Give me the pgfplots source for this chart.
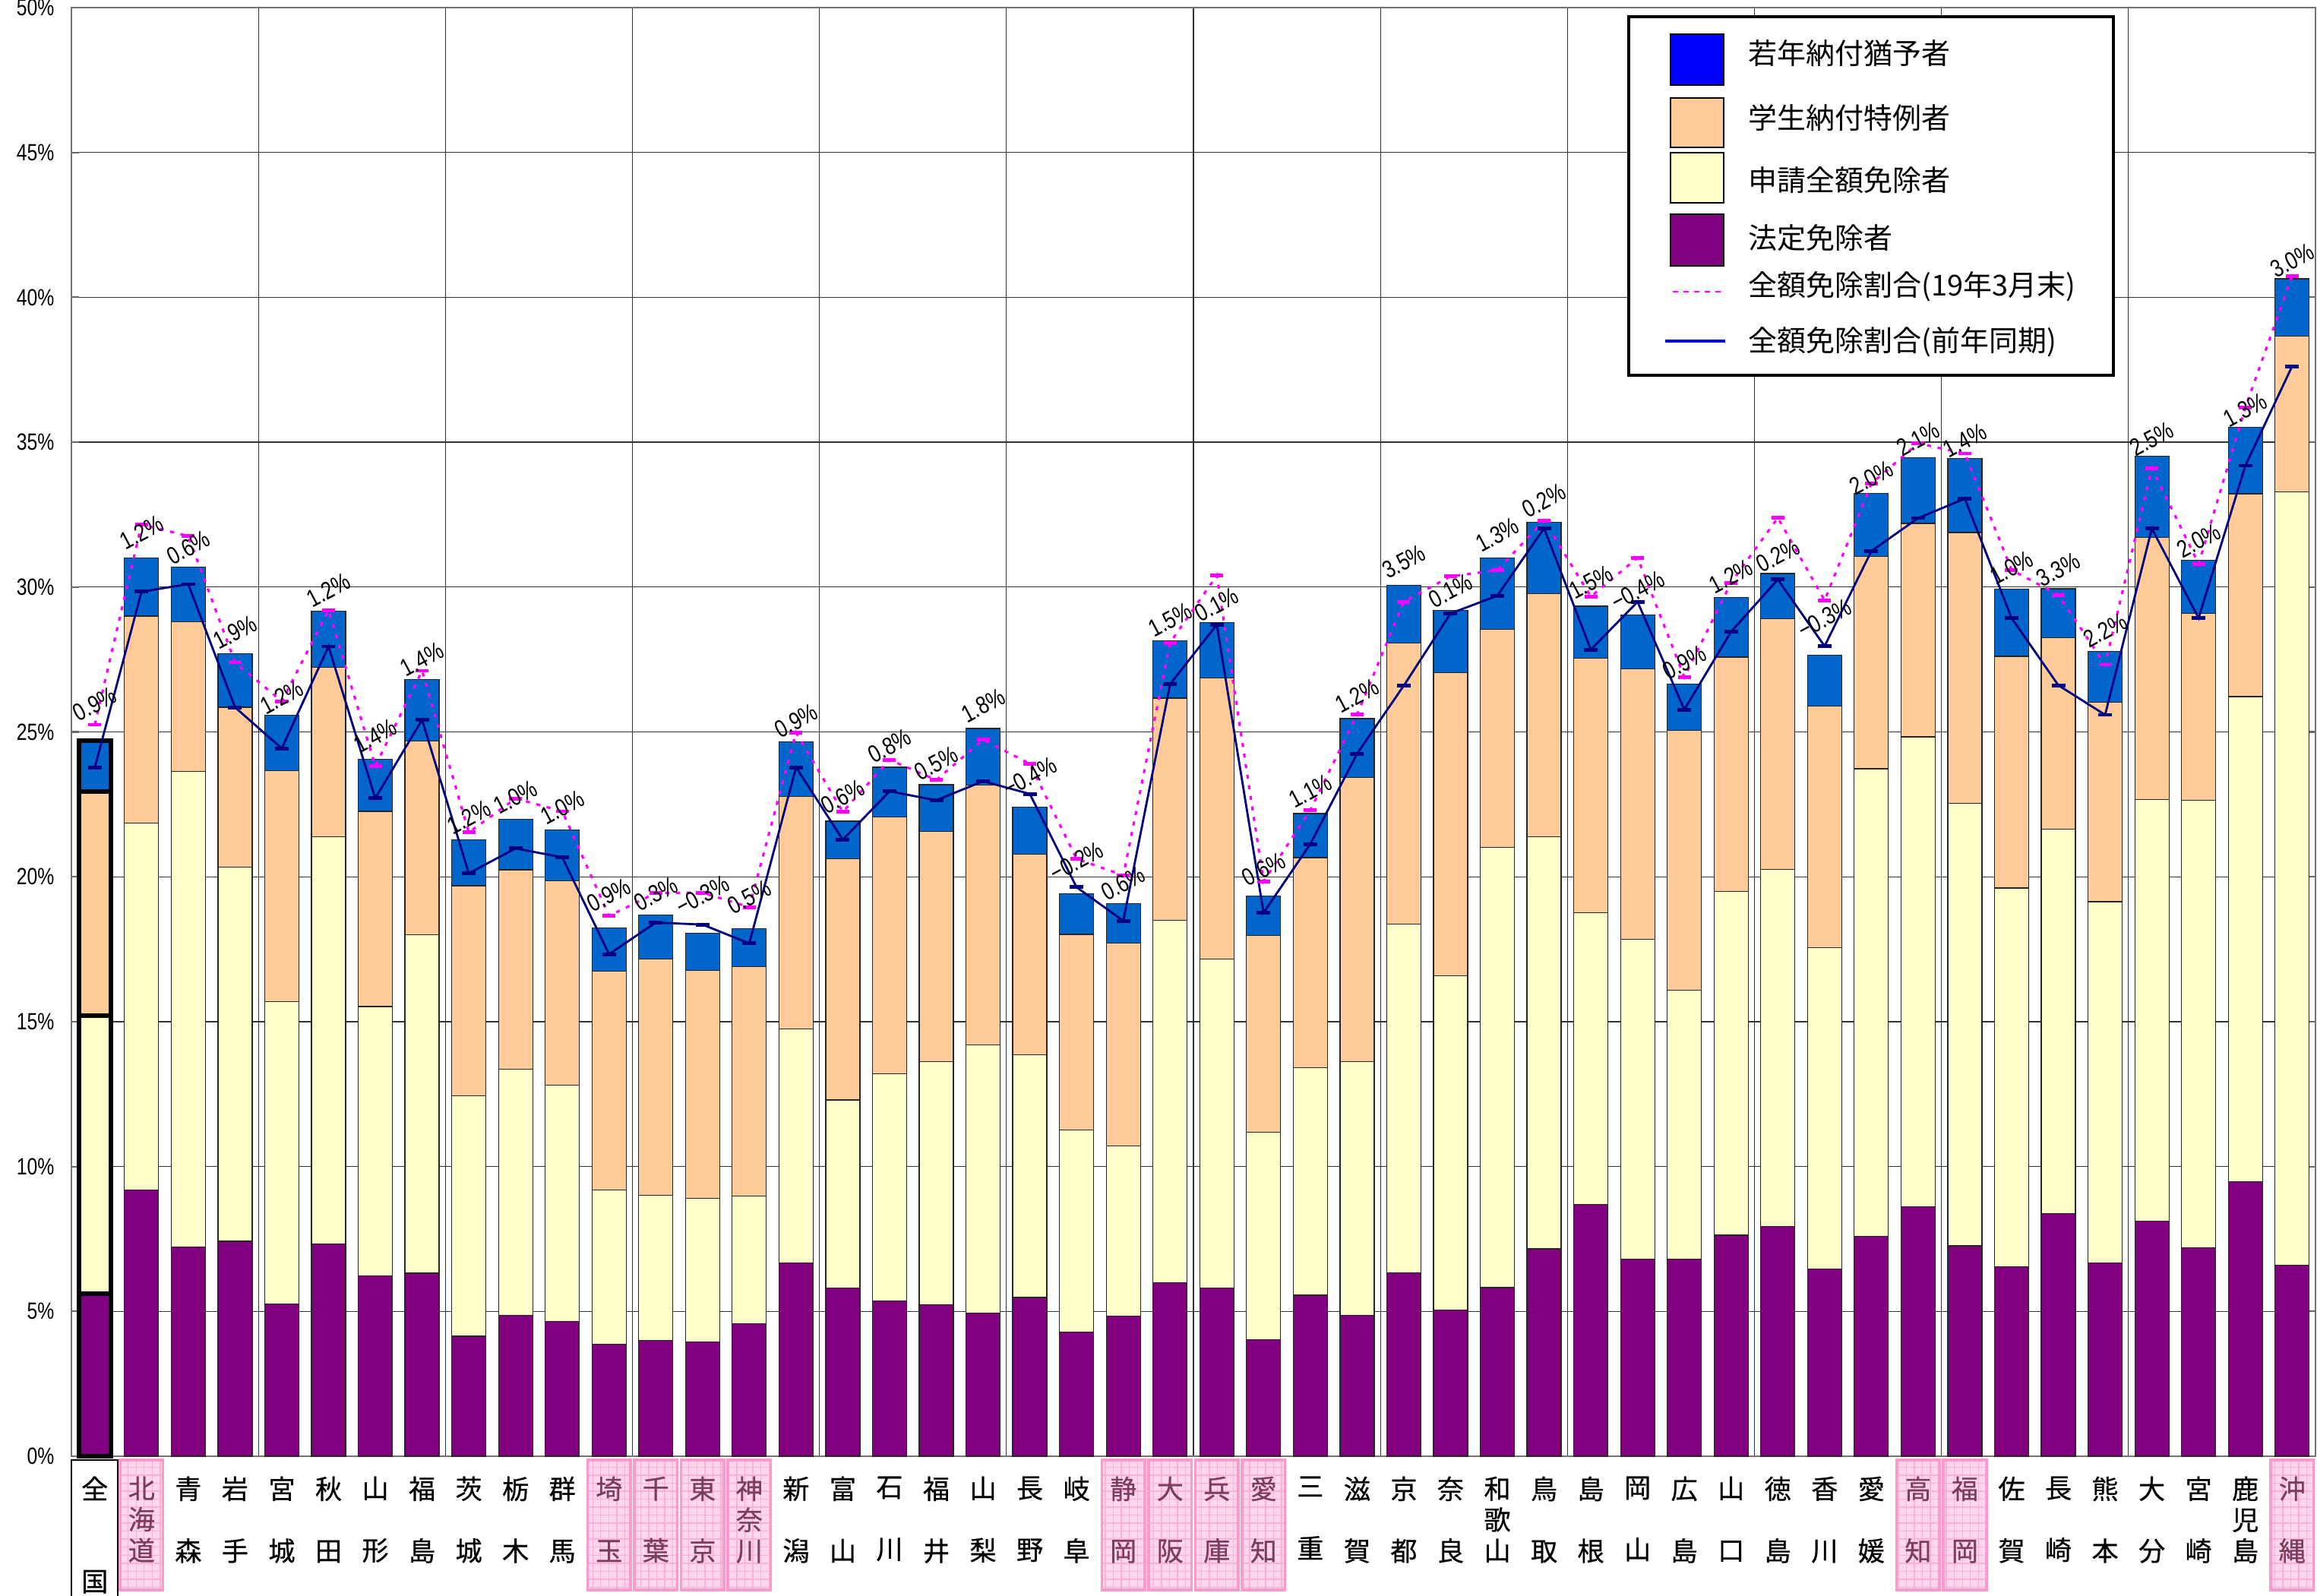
\documentclass[border=0pt]{standalone}
\usepackage{pgfplots}
\pgfplotsset{compat=1.18}
\usepackage{pgfplotstable}
\usetikzlibrary{patterns}
\usepackage{fontspec}
\setmainfont{Liberation Sans}[FakeStretch=0.8]
\newfontfamily\jp{Noto Sans CJK JP}
\newfontfamily\jpb{Noto Sans CJK JP}[FakeBold=0.5]
\definecolor{purp}{HTML}{800080}
\definecolor{cream}{HTML}{FFFFCC}
\definecolor{peach}{HTML}{FFCC99}
\definecolor{barblue}{HTML}{0066CC}
\definecolor{legblue}{HTML}{0000FF}
\definecolor{navy}{HTML}{000080}
\definecolor{mag}{HTML}{FF00FF}
\definecolor{pinkfill}{HTML}{FFD6EB}
\definecolor{pinkline}{HTML}{FF99CC}
\definecolor{pinkgrid}{HTML}{FFB0D6}
\definecolor{mauve}{HTML}{7A3D5E}
\newcommand\mv[1]{\textcolor{mauve}{#1}}
\newcommand\tw[2]{#1\\[11.6pt]#2}
\newcommand\tri[3]{#1\\#2\\#3}
\newcommand\ptw[2]{\mv{#1}\\[11.6pt]\mv{#2}}
\newcommand\ptri[3]{\mv{#1}\\\mv{#2}\\\mv{#3}}

\pgfplotstableread{
x hotei shinsei gakusei total m19 prev ly lab
0 5.61 15.20 22.95 24.71 25.25 23.77 25.97 0.9
1 9.20 21.85 29.00 31.01 32.16 29.84 31.89 1.2
2 7.22 23.64 28.81 30.69 31.76 30.10 31.36 0.6
3 7.42 20.34 25.85 27.71 27.40 25.85 28.44 1.9
4 5.25 15.69 23.66 25.57 26.06 24.43 26.21 1.2
5 7.32 21.38 27.23 29.17 29.20 27.95 29.90 1.2
6 6.22 15.52 22.26 24.06 23.82 22.71 24.86 1.4
7 6.32 18.00 24.68 26.81 27.11 25.42 27.50 1.4
8 4.14 12.45 19.69 21.27 21.53 20.12 22.05 1.2
9 4.86 13.35 20.24 21.99 22.70 20.98 22.75 1.0
10 4.66 12.80 19.87 21.61 22.26 20.67 22.40 1.0
11 3.87 9.20 16.74 18.23 18.65 17.33 19.37 0.9
12 3.99 9.01 17.16 18.69 19.44 18.42 19.42 0.3
13 3.94 8.90 16.77 18.05 19.45 18.35 19.37 −0.3
14 4.57 8.98 16.90 18.20 18.95 17.70 19.30 0.5
15 6.67 14.74 22.78 24.65 24.98 23.78 25.39 0.9
16 5.81 12.30 20.62 21.92 22.24 21.28 22.76 0.6
17 5.37 13.20 22.06 23.78 24.04 22.95 24.51 0.8
18 5.24 13.63 21.56 23.18 23.34 22.64 23.92 0.5
19 4.94 14.20 23.16 25.12 24.73 23.30 25.92 1.8
20 5.48 13.86 20.77 22.40 23.90 22.86 23.46 −0.4
21 4.28 11.27 18.01 19.42 20.62 19.64 20.53 −0.2
22 4.84 10.72 17.72 19.08 20.05 18.48 19.77 0.6
23 5.99 18.50 26.17 28.14 28.08 26.65 28.88 1.5
24 5.81 17.17 26.86 28.78 30.40 28.70 29.40 0.1
25 4.03 11.19 17.97 19.34 19.84 18.76 20.26 0.6
26 5.56 13.42 20.66 22.18 22.30 21.13 22.96 1.1
27 4.87 13.62 23.42 25.46 25.60 24.25 26.25 1.2
28 6.33 18.37 28.06 30.06 29.49 26.60 30.88 3.5
29 5.05 16.58 27.04 29.20 30.37 29.09 29.88 0.1
30 5.82 21.01 28.53 31.00 30.58 29.70 31.80 1.3
31 7.16 21.38 29.78 32.23 32.30 32.03 32.98 0.2
32 8.70 18.76 27.54 29.34 29.67 27.84 30.17 1.5
33 6.81 17.85 27.18 29.04 31.01 29.49 29.88 −0.4
34 6.81 16.08 25.05 26.65 26.89 25.77 27.41 0.9
35 7.63 19.50 27.58 29.65 30.15 28.46 30.38 1.2
36 7.94 20.25 28.90 30.47 32.39 30.26 31.09 0.2
37 6.47 17.56 25.89 27.64 29.54 27.96 28.92 −0.3
38 7.59 23.73 31.06 33.24 33.57 31.24 33.77 2.0
39 8.61 24.83 32.20 34.47 34.96 32.38 35.12 2.1
40 7.26 22.54 31.88 34.44 34.61 33.05 35.06 1.4
41 6.55 19.61 27.61 29.92 30.59 28.93 30.67 1.0
42 8.38 21.65 28.25 29.94 29.73 26.61 30.61 3.3
43 6.68 19.14 26.03 27.77 27.32 25.59 28.50 2.2
44 8.11 22.66 31.71 34.52 34.10 32.02 35.12 2.5
45 7.20 22.64 29.10 30.93 30.80 28.93 31.61 2.0
46 9.47 26.22 33.22 35.51 36.20 34.19 36.12 1.3
47 6.59 33.29 38.66 40.64 40.74 37.62 41.27 3.0
}\data

\pgfplotsset{frame/.style={
  at={(0.94cm,1.83cm)}, anchor=south west,
  scale only axis, width=29.54cm, height=19.07cm,
  xmin=-0.5, xmax=47.5, ymin=0, ymax=50, clip=false}}

\begin{document}
\begin{tikzpicture}
\useasboundingbox (0,0) rectangle (30.5cm,21cm);
% first layer: the boxes behind the category names
\begin{axis}[frame, hide axis]
\pgfplotsinvokeforeach{1,11,12,13,14,22,23,24,25,39,40,47}{
  \path[fill=pinkfill, postaction={pattern=grid, pattern color=pinkgrid}]
    ([xshift=-0.283cm]axis cs:#1,-0.13) rectangle ([xshift=0.283cm]axis cs:#1,-4.62);
  \draw[pinkline, line width=1pt]
    ([xshift=-0.283cm]axis cs:#1,-0.13) rectangle ([xshift=0.283cm]axis cs:#1,-4.62);
}
\draw[black, line width=0.5pt] ([xshift=-0.31cm]axis cs:0,-0.13) rectangle ([xshift=0.3cm]axis cs:0,-6);
\end{axis}

\begin{axis}[frame,
  xtick={0,...,47},
  xticklabels={
    {全\\[23pt]国},{\ptri{北}{海}{道}},{\tw{青}{森}},{\tw{岩}{手}},{\tw{宮}{城}},{\tw{秋}{田}},{\tw{山}{形}},{\tw{福}{島}},{\tw{茨}{城}},{\tw{栃}{木}},{\tw{群}{馬}},
    {\ptw{埼}{玉}},{\ptw{千}{葉}},{\ptw{東}{京}},{\ptri{神}{奈}{川}},
    {\tw{新}{潟}},{\tw{富}{山}},{\tw{石}{川}},{\tw{福}{井}},{\tw{山}{梨}},{\tw{長}{野}},{\tw{岐}{阜}},
    {\ptw{静}{岡}},{\ptw{大}{阪}},{\ptw{兵}{庫}},{\ptw{愛}{知}},
    {\tw{三}{重}},{\tw{滋}{賀}},{\tw{京}{都}},{\tw{奈}{良}},{\tri{和}{歌}{山}},{\tw{鳥}{取}},{\tw{島}{根}},{\tw{岡}{山}},{\tw{広}{島}},{\tw{山}{口}},{\tw{徳}{島}},{\tw{香}{川}},{\tw{愛}{媛}},
    {\ptw{高}{知}},{\ptw{福}{岡}},
    {\tw{佐}{賀}},{\tw{長}{崎}},{\tw{熊}{本}},{\tw{大}{分}},{\tw{宮}{崎}},{\tri{鹿}{児}{島}},{\ptw{沖}{縄}}},
  xticklabel style={font=\jpb\fontsize{10}{11.6}\selectfont, align=center, anchor=north, inner sep=0pt, yshift=-2.6mm},
  xtick style={draw=none},
  ytick={0,5,...,50},
  yticklabels={0\%,5\%,10\%,15\%,20\%,25\%,30\%,35\%,40\%,45\%,50\%},
  yticklabel style={font=\fontsize{8.8}{10}\selectfont, inner sep=0pt, xshift=-2.2mm},
  ytick style={black!60, line width=0.6pt},
  major tick length=1mm,
  minor xtick={3.5,7.5,...,43.5},
  minor tick length=0pt,
  ymajorgrids, xminorgrids,
  major grid style={black!80, line width=0.35pt},
  minor grid style={black!80, line width=0.35pt},
  axis line style={black!55, line width=0.8pt},
]
% bars (cumulative tops drawn from the top segment down)
\addplot[ybar, bar width=0.45cm, bar shift=0pt, fill=barblue, draw=black!85, line width=0.35pt, restrict x to domain=0.5:48, forget plot] table[x=x, y=total] {\data};
\addplot[ybar, bar width=0.45cm, bar shift=0pt, fill=peach, draw=black!85, line width=0.35pt, restrict x to domain=0.5:48, forget plot] table[x=x, y=gakusei] {\data};
\addplot[ybar, bar width=0.45cm, bar shift=0pt, fill=cream, draw=black!85, line width=0.35pt, restrict x to domain=0.5:48, forget plot] table[x=x, y=shinsei] {\data};
\addplot[ybar, bar width=0.45cm, bar shift=0pt, fill=purp, draw=black!85, line width=0.35pt, restrict x to domain=0.5:48, forget plot] table[x=x, y=hotei] {\data};
% national bar with thick outline
\addplot[ybar, bar width=0.415cm, bar shift=0pt, fill=barblue, draw=black, line width=1.7pt, restrict x to domain=-0.5:0.5, forget plot] table[x=x, y=total] {\data};
\addplot[ybar, bar width=0.415cm, bar shift=0pt, fill=peach, draw=black, line width=1.7pt, restrict x to domain=-0.5:0.5, forget plot] table[x=x, y=gakusei] {\data};
\addplot[ybar, bar width=0.415cm, bar shift=0pt, fill=cream, draw=black, line width=1.7pt, restrict x to domain=-0.5:0.5, forget plot] table[x=x, y=shinsei] {\data};
\addplot[ybar, bar width=0.415cm, bar shift=0pt, fill=purp, draw=black, line width=1.7pt, restrict x to domain=-0.5:0.5, forget plot] table[x=x, y=hotei] {\data};

% lines
\addplot[mag, line width=0.9pt, dash pattern=on 1.5pt off 2.5pt, mark=-, mark size=0.85mm, mark options={solid, line width=1.4pt}, forget plot] table[x=x, y=m19] {\data};
\addplot[navy, line width=0.8pt, mark=-, mark size=0.9mm, mark options={solid, line width=1.4pt}, forget plot] table[x=x, y=prev] {\data};

% difference labels
\addplot[draw=none, mark=none, forget plot, point meta=explicit symbolic,
  nodes near coords={\pgfplotspointmeta\%},
  every node near coord/.append style={anchor=center, rotate=28, font=\fontsize{9.2}{10}\selectfont, inner sep=0pt, text=black}]
  table[x=x, y=ly, meta=lab] {\data};
\end{axis}

% legend (page coordinates: 1 cm = 100 px of the 3050x2100 picture)
\draw[black, line width=0.9pt, fill=white] (21.44,20.78) rectangle (27.82,16.06);
\draw[black, line width=0.8pt, fill=legblue] (21.99,20.55) rectangle (22.69,19.88);
\draw[black, line width=0.8pt, fill=peach]   (21.99,19.71) rectangle (22.69,19.06);
\draw[black, line width=0.8pt, fill=cream]   (21.99,18.99) rectangle (22.69,18.33);
\draw[black, line width=0.8pt, fill=purp]    (21.99,18.18) rectangle (22.69,17.50);
\draw[mag, line width=0.8pt, dash pattern=on 2pt off 2pt] (22.02,17.16) -- (22.66,17.16);
\draw[legblue, line width=0.9pt] (21.92,16.51) -- (22.71,16.51);
\begin{scope}[every node/.style={anchor=west, inner sep=0pt, font=\jp\fontsize{10.8}{12}\selectfont}]
\node at (23.01,20.30) {若年納付猶予者};
\node at (23.01,19.45) {学生納付特例者};
\node at (23.01,18.63) {申請全額免除者};
\node at (23.01,17.87) {法定免除者};
\node at (23.01,17.23) {全額免除割合(19年3月末)};
\node at (23.01,16.50) {全額免除割合(前年同期)};
\end{scope}
\end{tikzpicture}
\end{document}
